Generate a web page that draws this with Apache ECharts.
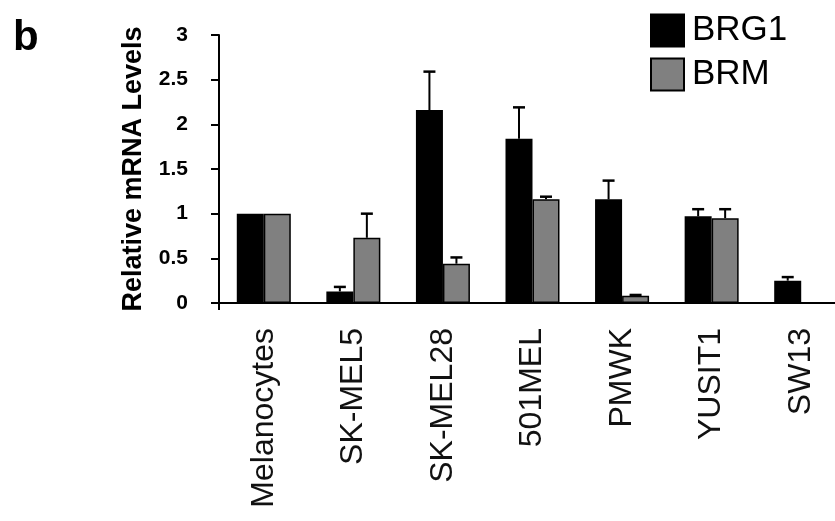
<!DOCTYPE html>
<html>
<head>
<meta charset="utf-8">
<script src="https://cdn.jsdelivr.net/npm/echarts@6/dist/echarts.min.js"></script>
<style>html,body{margin:0;padding:0;background:#fff;}#c{width:835px;height:521px;}</style>
</head>
<body>
<div id="c"></div>
<script>
const categories = ['Melanocytes', 'SK-MEL5', 'SK-MEL28', '501MEL', 'PMWK', 'YUSIT1', 'SW13'];
const brg1 = [1.0, 0.13, 2.16, 1.84, 1.16, 0.97, 0.25];
const brg1Err = [0, 0.05, 0.43, 0.35, 0.21, 0.08, 0.04];
const brm = [1.0, 0.73, 0.44, 1.16, 0.08, 0.95, 0];
const brmErr = [0, 0.27, 0.07, 0.03, 0.01, 0.10, 0];
const yTicks = [0, 0.5, 1, 1.5, 2, 2.5, 3];

const BAR_W = 27;
const FONT = '"Liberation Sans", Arial, sans-serif';

function errSeries(values, errs, dir) {
  return {
    type: 'custom',
    silent: true,
    z: 5,
    data: values.map((v, i) => [i, v, errs[i]]),
    renderItem: function (params, api) {
      const i = api.value(0), v = api.value(1), e = api.value(2);
      if (!e) return null;
      const base = api.coord([i, v]);
      const top = api.coord([i, v + e]);
      const x = base[0] + dir * BAR_W / 2;
      const cap = 6;
      return {
        type: 'group',
        children: [
          { type: 'line', shape: { x1: x, y1: base[1], x2: x, y2: top[1] }, style: { stroke: '#000', lineWidth: 2 } },
          { type: 'line', shape: { x1: x - cap, y1: top[1], x2: x + cap, y2: top[1] }, style: { stroke: '#000', lineWidth: 2.5 } }
        ]
      };
    }
  };
}

const chart = echarts.init(document.getElementById('c'), null, { renderer: 'canvas' });
chart.setOption({
  animation: false,
  backgroundColor: '#fff',
  title: {
    text: 'b', left: 13, top: 17, padding: 0,
    textStyle: { fontFamily: FONT, fontSize: 42, fontWeight: 'bold', color: '#000' }
  },
  legend: {
    orient: 'vertical', left: 650, top: 13, padding: 0, itemGap: 9,
    itemWidth: 33, itemHeight: 32, icon: 'rect',
    data: ['BRG1', 'BRM'],
    textStyle: { fontFamily: FONT, fontSize: 35, color: '#000', padding: [0, 0, 0, 3] }
  },
  grid: { left: 219, top: 35, bottom: 218, right: -11, outerBoundsMode: 'none', containLabel: false },
  xAxis: {
    type: 'category', data: categories,
    axisLine: { lineStyle: { color: '#000', width: 2 } },
    axisTick: { show: true, interval: i => i === 0, length: 7, lineStyle: { color: '#000', width: 2 } },
    axisLabel: { rotate: 90, margin: 25, interval: 0, fontFamily: FONT, fontSize: 32, color: '#111' }
  },
  yAxis: {
    type: 'value', min: 0, max: 3, interval: 0.5,
    name: 'Relative mRNA Levels', nameLocation: 'middle', nameRotate: 90, nameGap: 72,
    nameTextStyle: { fontFamily: FONT, fontSize: 27, fontWeight: 'bold', color: '#000' },
    axisLine: { show: true, lineStyle: { color: '#000', width: 2 } },
    axisTick: { show: true, inside: false, length: 8, lineStyle: { color: '#000', width: 2 } },
    splitLine: { show: false },
    axisLabel: {
      margin: 31, fontFamily: FONT, fontSize: 21, fontWeight: 'bold', color: '#000',
      formatter: v => (yTicks.indexOf(v) >= 0 ? String(v) : '')
    }
  },
  series: [
    { name: 'BRG1', type: 'bar', data: brg1, barWidth: BAR_W, barGap: '0%',
      itemStyle: { color: '#000', borderColor: '#000', borderWidth: 1.5 } },
    { name: 'BRM', type: 'bar', data: brm, barWidth: BAR_W, barGap: '0%',
      itemStyle: { color: '#808080', borderColor: '#000', borderWidth: 1.5 } },
    errSeries(brg1, brg1Err, -1),
    errSeries(brm, brmErr, 1)
  ]
});
</script>
</body>
</html>
